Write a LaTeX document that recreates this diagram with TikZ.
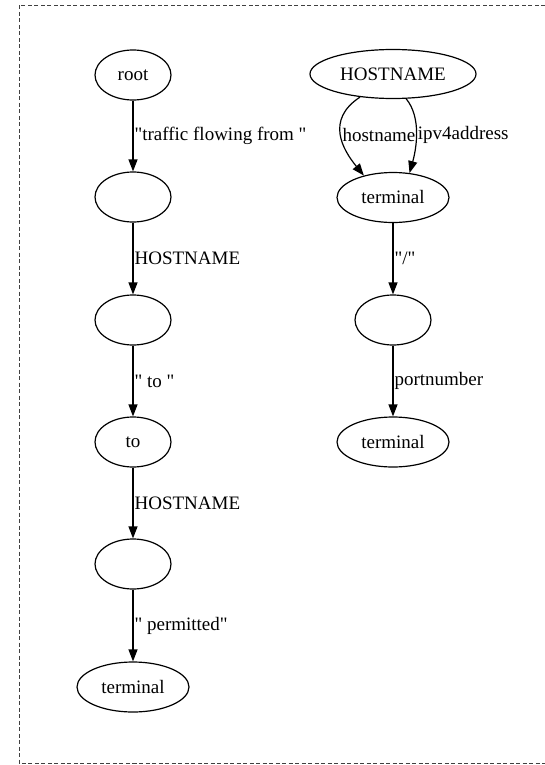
\documentclass[tikz,border=0pt]{standalone}
\usepackage{fontspec}
% a plain family without TeX ligature mapping, so " stays a straight quote
\newfontfamily\graphfont{Liberation Serif}
\usetikzlibrary{shapes.geometric,arrows.meta}

\begin{document}
\begin{tikzpicture}[x=1pt,y=-1pt,
  every node/.style={font=\graphfont\fontsize{19}{22}\selectfont},
  state/.style={draw, ellipse, line width=1.2pt, inner sep=0pt,
    minimum width=76pt, minimum height=50pt},
  wide/.style={state, minimum width=112pt},
  widest/.style={state, minimum width=166pt, minimum height=49pt},
  edge/.style={line width=1.2pt, -{Triangle[length=12pt,width=9pt]}},
  lbl/.style={anchor=west, inner sep=1pt},
  frame/.style={draw=black!75, line width=0.8pt, dash pattern=on 4pt off 2.5pt}
]
  \useasboundingbox (0,0) rectangle (545,765);

  % dashed cluster frame
  \coordinate (ftr) at (545,5);
  \coordinate (ftl) at (19,5);
  \coordinate (fbl) at (19,763);
  \coordinate (fbr) at (545,763);
  \draw[frame] (ftr) -- (ftl) -- (fbl) -- (fbr);

  % left chain
  \node[state]  (root) at (133,75)  {root};
  \node[state]  (n1)   at (133,197) {};
  \node[state]  (n2)   at (133,320) {};
  \node[state]  (to)   at (133,442) {to};
  \node[state]  (n3)   at (133,564) {};
  \node[wide]   (t1)   at (133,687) {terminal};

  \draw[edge] (root) -- node[lbl] {"traffic flowing from "} (n1);
  \draw[edge] (n1)   -- node[lbl] {HOSTNAME} (n2);
  \draw[edge] (n2)   -- node[lbl] {" to "} (to);
  \draw[edge] (to)   -- node[lbl] {HOSTNAME} (n3);
  \draw[edge] (n3)   -- node[lbl] {" permitted"} (t1);

  % right chain
  \node[widest] (host) at (393,74)    {HOSTNAME};
  \node[wide]   (t2)   at (393,197.5) {terminal};
  \node[state]  (n4)   at (393,320)   {};
  \node[wide]   (t3)   at (393,442)   {terminal};

  \draw[edge] (host.215) .. controls (325,120) and (343,150) .. node[lbl, pos=0.5] {hostname} (t2.143);
  \draw[edge] (host.298) .. controls (422,118) and (416,150) .. node[lbl, pos=0.5] {ipv4address} (t2.56);
  \draw[edge] (t2) -- node[lbl] {"/"} (n4);
  \draw[edge] (n4) -- node[lbl] {portnumber} (t3);
\end{tikzpicture}
\end{document}
